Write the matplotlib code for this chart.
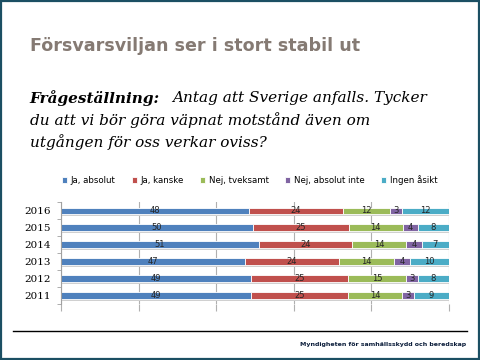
import numpy as np
import matplotlib
matplotlib.use("Agg")
import matplotlib.pyplot as plt
from matplotlib.patches import Rectangle

years = ["2016", "2015", "2014", "2013", "2012", "2011"]
series = ["Ja, absolut", "Ja, kanske", "Nej, tveksamt", "Nej, absolut inte", "Ingen åsikt"]
ja_absolut = [48, 50, 51, 47, 49, 49]
ja_kanske = [24, 25, 24, 24, 25, 25]
nej_tveksamt = [12, 14, 14, 14, 15, 14]
nej_absolut_inte = [3, 4, 4, 4, 3, 3]
ingen_asikt = [12, 8, 7, 10, 8, 9]
colors = ["#4f81bd", "#c0504d", "#9bbb59", "#8064a2", "#4bacc6"]

values = np.array([ja_absolut, ja_kanske, nej_tveksamt, nej_absolut_inte, ingen_asikt], dtype=float)
shares = values / values.sum(axis=0) * 100  # chart is a 100% stacked bar

fig = plt.figure(figsize=(4.8, 3.6), dpi=100)

# slide frame
fig.patches.append(Rectangle((0.002, 0.003), 0.995, 0.994, transform=fig.transFigure,
                             fill=False, edgecolor="#1b4f63", linewidth=1.6))

fig.text(0.062, 0.873, "Försvarsviljan ser i stort stabil ut", fontsize=12.6, fontweight="bold",
         color="#857a73", family="DejaVu Sans", va="center")

q = dict(fontsize=11, style="italic", family="DejaVu Serif", va="center", color="black")
fig.text(0.062, 0.727, "Frågeställning:", fontweight="bold", **q)
fig.text(0.358, 0.727, "Antag att Sverige anfalls. Tycker", **q)
fig.text(0.062, 0.666, "du att vi bör göra väpnat motstånd även om", **q)
fig.text(0.062, 0.605, "utgången för oss verkar oviss?", **q)

ax = fig.add_axes([0.127, 0.156, 0.808, 0.282])
y = np.arange(len(years))
left = np.zeros(len(years))
h = 0.38
# soft shadow under the bars
ax.barh(y + 0.12, shares.sum(axis=0), height=h, color="#d0d0d0", zorder=1)
for name, vals, c in zip(series, shares, colors):
    ax.barh(y, vals, left=left, height=h, color=c, edgecolor="white", linewidth=0.6,
            label=name, zorder=2)
    for yi, (l, v, raw) in enumerate(zip(left, vals, values[series.index(name)])):
        ax.text(l + v / 2, yi, f"{raw:g}", ha="center", va="center", fontsize=6,
                color="#262626", zorder=3)
    left += vals

ax.set_xlim(0, 100)
ax.set_ylim(len(years) - 0.5, -0.5)
ax.set_yticks(y)
ax.set_yticklabels(years, family="DejaVu Serif", fontsize=7.5)
ax.tick_params(axis="y", which="major", length=0, pad=7)
ax.set_yticks(np.arange(-0.5, len(years)), minor=True)
ax.tick_params(axis="y", which="minor", length=3, color="#a0a0a0", direction="out")
ax.set_xticks(np.arange(0, 101, 20))
ax.tick_params(axis="x", length=5, color="#b0b0b0", labelbottom=False)
ax.grid(axis="x", color="#b0b0b0", linewidth=0.8, zorder=0)
ax.set_axisbelow(True)
for s in ["top", "right", "bottom"]:
    ax.spines[s].set_visible(False)
ax.spines["left"].set_color("#a0a0a0")

fig.legend(loc="center", bbox_to_anchor=(0.52, 0.5), ncol=5, frameon=False, fontsize=6.2,
           handlelength=0.6, handleheight=0.6, handletextpad=0.4, columnspacing=1.9)

fig.add_artist(plt.Line2D([0.027, 0.973], [0.081, 0.081], transform=fig.transFigure,
                          color="black", linewidth=1))
fig.text(0.971, 0.044, "Myndigheten för samhällsskydd och beredskap", fontsize=4.5,
         fontweight="bold", color="#0d1f3c", ha="right", va="center")

fig.savefig("out.png", dpi=100)
